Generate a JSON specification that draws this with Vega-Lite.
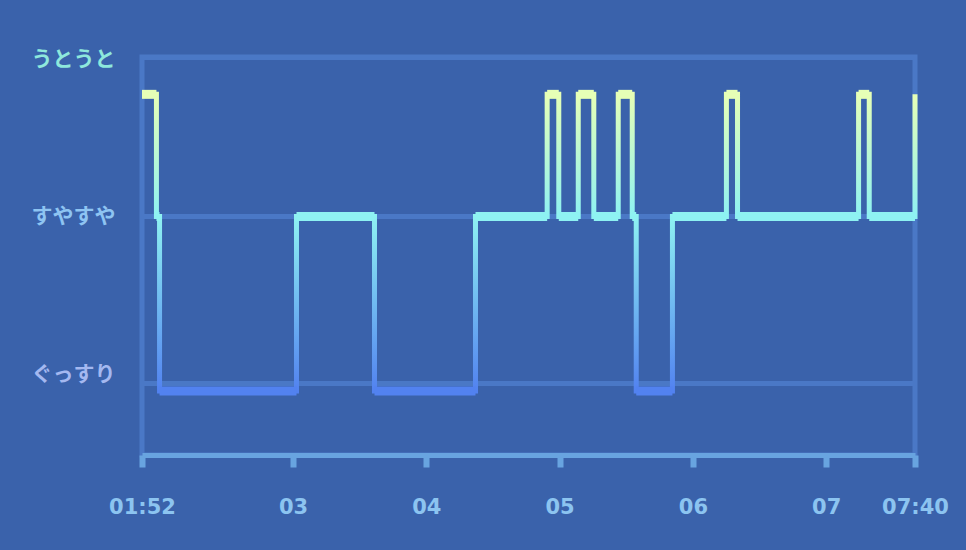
{
  "$schema": "https://vega.github.io/schema/vega-lite/v6.json",
  "width": 773,
  "height": 398,
  "autosize": {"type": "none"},
  "padding": {"left": 142, "top": 57, "right": 51, "bottom": 95},
  "background": "#3a62ab",
  "view": {"stroke": "#4a78c6", "strokeWidth": 5},
  "data": {
    "values": [
      {"start": "2024-01-01T01:52:00", "end": "2024-01-01T01:58:30", "stage": "うとうと", "level": 1.7},
      {"start": "2024-01-01T01:58:30", "end": "2024-01-01T01:59:54", "stage": "すやすや", "level": 1},
      {"start": "2024-01-01T01:59:54", "end": "2024-01-01T03:01:33", "stage": "ぐっすり", "level": 0},
      {"start": "2024-01-01T03:01:33", "end": "2024-01-01T03:36:40", "stage": "すやすや", "level": 1},
      {"start": "2024-01-01T03:36:40", "end": "2024-01-01T04:22:08", "stage": "ぐっすり", "level": 0},
      {"start": "2024-01-01T04:22:08", "end": "2024-01-01T04:54:24", "stage": "すやすや", "level": 1},
      {"start": "2024-01-01T04:54:24", "end": "2024-01-01T04:59:38", "stage": "うとうと", "level": 1.7},
      {"start": "2024-01-01T04:59:38", "end": "2024-01-01T05:08:24", "stage": "すやすや", "level": 1},
      {"start": "2024-01-01T05:08:24", "end": "2024-01-01T05:15:24", "stage": "うとうと", "level": 1.7},
      {"start": "2024-01-01T05:15:24", "end": "2024-01-01T05:26:24", "stage": "すやすや", "level": 1},
      {"start": "2024-01-01T05:26:24", "end": "2024-01-01T05:32:42", "stage": "うとうと", "level": 1.7},
      {"start": "2024-01-01T05:32:42", "end": "2024-01-01T05:34:30", "stage": "すやすや", "level": 1},
      {"start": "2024-01-01T05:34:30", "end": "2024-01-01T05:50:48", "stage": "ぐっすり", "level": 0},
      {"start": "2024-01-01T05:50:48", "end": "2024-01-01T06:15:06", "stage": "すやすや", "level": 1},
      {"start": "2024-01-01T06:15:06", "end": "2024-01-01T06:20:06", "stage": "うとうと", "level": 1.7},
      {"start": "2024-01-01T06:20:06", "end": "2024-01-01T07:14:36", "stage": "すやすや", "level": 1},
      {"start": "2024-01-01T07:14:36", "end": "2024-01-01T07:19:24", "stage": "うとうと", "level": 1.7},
      {"start": "2024-01-01T07:19:24", "end": "2024-01-01T07:40:00", "stage": "すやすや", "level": 1},
      {"start": "2024-01-01T07:40:00", "end": "2024-01-01T07:40:00", "stage": "うとうと", "level": 1.7}
    ]
  },
  "encoding": {
    "x": {
      "field": "start",
      "type": "temporal",
      "scale": {
        "domain": [
          {"year": 2024, "month": 1, "date": 1, "hours": 1, "minutes": 52},
          {"year": 2024, "month": 1, "date": 1, "hours": 7, "minutes": 40}
        ],
        "nice": false
      },
      "axis": {
        "title": null,
        "grid": false,
        "values": [
          {"year": 2024, "month": 1, "date": 1, "hours": 1, "minutes": 52},
          {"year": 2024, "month": 1, "date": 1, "hours": 3, "minutes": 0},
          {"year": 2024, "month": 1, "date": 1, "hours": 4, "minutes": 0},
          {"year": 2024, "month": 1, "date": 1, "hours": 5, "minutes": 0},
          {"year": 2024, "month": 1, "date": 1, "hours": 6, "minutes": 0},
          {"year": 2024, "month": 1, "date": 1, "hours": 7, "minutes": 0},
          {"year": 2024, "month": 1, "date": 1, "hours": 7, "minutes": 40}
        ],
        "labelExpr": "minutes(datum.value) == 0 ? timeFormat(datum.value, '%H') : timeFormat(datum.value, '%H:%M')",
        "labelFont": "DejaVu Sans",
        "labelFontSize": 21,
        "labelFontWeight": "bold",
        "labelColor": "#8cc4f0",
        "labelPadding": 29,
        "labelFlush": false,
        "labelOverlap": false,
        "labelBound": false,
        "domainColor": "#68a4e0",
        "domainWidth": 5,
        "tickColor": "#68a4e0",
        "tickWidth": 6,
        "tickSize": 12
      }
    },
    "y": {
      "field": "level",
      "type": "quantitative",
      "scale": {"domain": [-0.367, 1.914], "nice": false, "zero": false},
      "axis": {
        "title": null,
        "values": [0.046, 1, 1.914],
        "labelExpr": "datum.value > 1.5 ? 'うとうと' : (datum.value > 0.5 ? 'すやすや' : 'ぐっすり')",
        "labelFont": "Noto Sans CJK JP",
        "labelFontSize": 21,
        "labelFontWeight": "bold",
        "labelColor": {
          "condition": [
            {"test": "datum.value > 1.5", "value": "#8ee8dc"},
            {"test": "datum.value > 0.5", "value": "#8ec4f2"}
          ],
          "value": "#a4b8f0"
        },
        "labelOffset": {
          "condition": [
            {"test": "datum.value > 1.5", "value": 2},
            {"test": "datum.value > 0.5", "value": 0}
          ],
          "value": -8
        },
        "labelPadding": 27,
        "labelOverlap": false,
        "labelBound": false,
        "labelFlush": false,
        "ticks": false,
        "tickSize": 0,
        "domain": false,
        "grid": true,
        "gridColor": "#4a78c6",
        "gridWidth": 5
      }
    }
  },
  "layer": [
    {
      "mark": {
        "type": "line",
        "interpolate": "step-after",
        "strokeWidth": 5,
        "stroke": {
          "gradient": "linear",
          "x1": 0, "y1": 0, "x2": 0, "y2": 1,
          "stops": [
            {"offset": 0, "color": "#e6ffb6"},
            {"offset": 0.41, "color": "#8ef2f2"},
            {"offset": 1, "color": "#5282f0"}
          ]
        }
      }
    },
    {
      "mark": {"type": "rule", "strokeWidth": 9, "strokeCap": "butt"},
      "encoding": {
        "x2": {"field": "end"},
        "color": {
          "field": "stage",
          "type": "nominal",
          "scale": {"domain": ["うとうと", "すやすや", "ぐっすり"], "range": ["#e6ffb6", "#8ef2f2", "#5282f0"]},
          "legend": null
        }
      }
    }
  ]
}
